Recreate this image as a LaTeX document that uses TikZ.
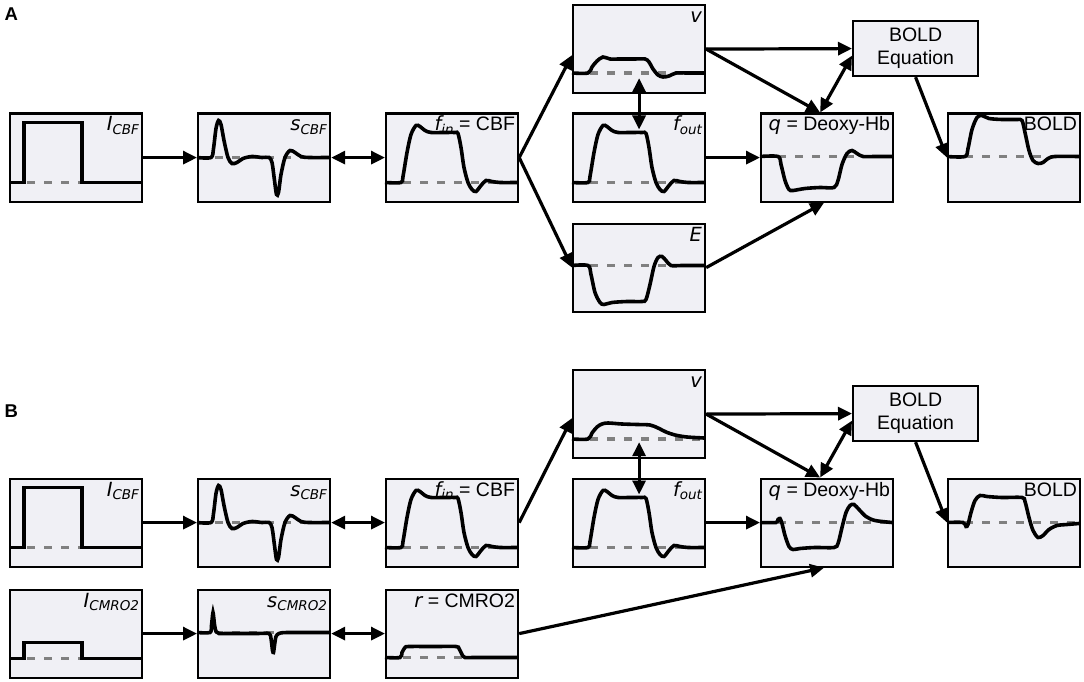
\documentclass[tikz,border=0pt]{standalone}
\usepackage{fontspec}
\setmainfont{Liberation Sans}
\newfontfamily\vf{DejaVu Sans Oblique}
\usetikzlibrary{arrows.meta,calc}
\definecolor{boxfill}{RGB}{240,240,245}
\definecolor{dashcol}{RGB}{128,128,128}
\newcommand\sub[1]{\raisebox{-3.2pt}{\fontsize{13.5}{14}\selectfont #1}}
\newcommand\sigbox[5]{%
  \node[sbox] (#1) at (#2,#3) {};
  \begin{scope}[shift={(#2,#3)}]
    \draw[basel] (18,#4) -- (131,#4);
    \draw[sig] #5;
  \end{scope}}
\newcommand\blabel[2]{\node[lab] (#1l) at ($(#1.north east)+(-4,18.5)$) {#2};}
\begin{document}
\begin{tikzpicture}[x=1pt,y=-1pt,
  sbox/.style={draw=black, line width=2.2pt, fill=boxfill, inner sep=0pt,
    minimum width=132pt, minimum height=88pt, anchor=north west},
  eqbox/.style={draw=black, line width=2.2pt, fill=boxfill, inner sep=0pt,
    minimum width=125pt, minimum height=55pt, anchor=north west, align=center,
    font=\fontsize{19.5}{23}\selectfont},
  sig/.style={line width=3.6pt, black},
  basel/.style={line width=3.2pt, dashcol, dash pattern=on 8pt off 9pt},
  arr/.style={line width=3.2pt, -{Triangle[length=14pt,width=13pt]}},
  darr/.style={line width=3.2pt, {Triangle[length=14pt,width=13pt]}-{Triangle[length=14pt,width=13pt]}},
  lab/.style={anchor=base east, inner sep=0pt, font=\fontsize{19.5}{22}\selectfont},
  plab/.style={anchor=base west, inner sep=0pt, font=\bfseries\fontsize{18.5}{21}\selectfont}]
\useasboundingbox (0,0) rectangle (1084,682);
\fill[white] (0,0) rectangle (1084,682);

% ---------------- Panel A ----------------
\node[plab] (pA) at (4.5,21) {A};
\sigbox{icbfA}{9}{112.5}{70}{(0,70)--(15,70)--(15,10)--(73,10)--(73,70)--(132,70)}
\sigbox{scbfA}{197}{112.5}{45}{plot[smooth,tension=.5] coordinates {(0,45) (14,45) (16.5,36) (19,16) (21.5,8) (24,12) (27,28) (31,45) (35,51) (40,50) (46,46) (55,44) (65,45) (72,45) (75,50) (77.5,68) (79.5,82) (81.5,80) (84,62) (88,45) (93,38) (98,40) (104,44) (112,45) (132,45)}}
\sigbox{finA}{385}{112.5}{70}{plot[smooth,tension=.5] coordinates {(0,70) (16,70) (18,64) (22,40) (26,22) (31,13) (35,14) (40,18) (46,20) (58,20) (70,20) (73,21) (76,35) (79,55) (83,70) (87,77) (91,79) (96,73) (101,68) (107,69) (115,70) (132,70)}}
\sigbox{vA}{572}{4}{69}{plot[smooth,tension=.5] coordinates {(0,69) (16,69) (20,63) (25,57) (31,53) (38,55) (48,55) (62,55) (73,55) (77,58) (81,65) (86,71) (91,73) (97,72) (104,69) (115,69) (132,69)}}
\sigbox{foutA}{572}{112.5}{70}{plot[smooth,tension=.5] coordinates {(0,70) (16,70) (18,64) (22,40) (26,22) (31,13) (35,14) (40,18) (46,20) (58,20) (70,20) (74,21) (77,35) (80,55) (84,70) (88,77) (92,79) (97,73) (102,68) (108,69) (116,70) (132,70)}}
\sigbox{eA}{572}{222.5}{43}{plot[smooth,tension=.5] coordinates {(0,43) (16,43) (19,52) (23,70) (28,80) (32,82) (40,80) (55,79) (70,79) (74,77) (78,62) (82,44) (86,35) (90,34) (94,38) (99,43) (110,43) (132,43)}}
\sigbox{qA}{760}{112.5}{44}{plot[smooth,tension=.5] coordinates {(0,44) (18,44) (21,52) (25,68) (29,77) (33,78) (45,76) (60,75) (74,75) (78,68) (82,52) (87,41) (92,38) (97,41) (103,44) (115,44) (132,44)}}
\sigbox{boldA}{947}{112.5}{44}{plot[smooth,tension=.5] coordinates {(0,44) (18,44) (21,36) (25,17) (30,5) (35,3) (42,6) (55,7) (70,7) (75,8) (78,20) (82,38) (86,48) (91,51) (96,50) (101,46) (108,44) (132,44)}}
\node[eqbox] (beqA) at (852,20) {BOLD\\Equation};

\blabel{icbfA}{{\vf I\sub{CBF}}}
\blabel{scbfA}{{\vf s\sub{CBF}}}
\blabel{finA}{{\vf f\sub{in}} = CBF}
\blabel{vA}{{\vf v}}
\blabel{foutA}{{\vf f\sub{out}}}
\blabel{eA}{{\vf E}}
\blabel{qA}{{\vf q} = Deoxy-Hb}
\blabel{boldA}{BOLD}

\coordinate (qtA) at ($(qA.north)+(-7,0)$);
\draw[arr] (icbfA.east) -- (scbfA.west);
\draw[darr] (scbfA.east) -- (finA.west);
\draw[arr] (finA.east) -- ($(vA.west)+(0,6)$);
\draw[arr] (finA.east) -- (eA.west);
\draw[darr] ($(vA.south)+(0,-16)$) -- ($(foutA.north)+(0,17)$);
\draw[arr] (foutA.east) -- (qA.west);
\draw[arr] (eA.east) -- ($(qA.south)+(-3,0)$);
\draw[arr] (vA.east) -- (beqA.west);
\draw[arr] (vA.east) -- (qtA);
\draw[darr] (qtA) -- ($(beqA.west)+(0,7)$);
\draw[arr] (beqA.south) -- (boldA.west);

% ---------------- Panel B ----------------
\node[plab] (pB) at (4.5,417.5) {B};
\sigbox{icbfB}{9}{477.5}{70}{(0,70)--(15,70)--(15,10)--(73,10)--(73,70)--(132,70)}
\sigbox{scbfB}{197}{477.5}{45}{plot[smooth,tension=.5] coordinates {(0,45) (14,45) (16.5,36) (19,16) (21.5,8) (24,12) (27,28) (31,45) (35,51) (40,50) (46,46) (55,44) (65,45) (72,45) (75,50) (77.5,68) (79.5,82) (81.5,80) (84,62) (88,45) (93,38) (98,40) (104,44) (112,45) (132,45)}}
\sigbox{finB}{385}{477.5}{70}{plot[smooth,tension=.5] coordinates {(0,70) (16,70) (18,64) (22,40) (26,22) (31,13) (35,14) (40,18) (46,20) (58,20) (70,20) (73,21) (76,35) (79,55) (83,70) (87,77) (91,79) (96,73) (101,68) (107,69) (115,70) (132,70)}}
\sigbox{vB}{572}{369}{70}{plot[smooth,tension=.5] coordinates {(0,70) (16,70) (20,64) (25,58) (30,55) (36,54) (50,55) (65,55.5) (78,56) (86,59) (94,63) (103,66) (115,68) (132,69)}}
\sigbox{foutB}{572}{477.5}{70}{plot[smooth,tension=.5] coordinates {(0,70) (16,70) (18,64) (22,40) (26,22) (31,13) (35,14) (40,18) (46,20) (58,20) (70,20) (74,21) (77,35) (80,55) (84,70) (88,77) (92,79) (97,73) (102,68) (108,69) (116,70) (132,70)}}
\sigbox{qB}{760}{477.5}{45}{plot[smooth,tension=.5] coordinates {(0,45) (16,45) (18,42) (20,41) (22,46) (25,58) (29,69) (33,72) (40,71) (55,70) (74,70) (78,66) (82,50) (86,35) (90,28) (94,27) (99,32) (106,39) (115,43) (132,45)}}
\sigbox{boldB}{947}{477.5}{45}{plot[smooth,tension=.5] coordinates {(0,45) (16,45) (19,49) (21,47) (24,35) (28,23) (33,18) (40,19) (55,20) (75,20) (78,24) (82,40) (86,53) (91,60) (96,58) (102,52) (110,48) (120,47) (132,46)}}
\node[eqbox] (beqB) at (852,385) {BOLD\\Equation};
\sigbox{icmroB}{9}{588.5}{70}{(0,70)--(15,70)--(15,54)--(73,54)--(73,70)--(132,70)}
\sigbox{scmroB}{197}{588.5}{44}{plot[smooth,tension=.45] coordinates {(0,44) (13,44) (14.5,37) (16,24) (17.5,36) (19,43) (22,45) (30,45) (60,45) (72,45) (74,50) (75.5,62) (76.5,64) (77.5,57) (79,48) (82,45) (90,44) (132,44)}}
\sigbox{rB}{385}{588.5}{69}{plot[smooth,tension=.5] coordinates {(0,69) (15,69) (17,64) (20,59) (24,58) (50,58) (71,58) (74,60) (77,66) (80,69) (90,69) (132,69)}}

\blabel{icbfB}{{\vf I\sub{CBF}}}
\blabel{scbfB}{{\vf s\sub{CBF}}}
\blabel{finB}{{\vf f\sub{in}} = CBF}
\blabel{vB}{{\vf v}}
\blabel{foutB}{{\vf f\sub{out}}}
\blabel{qB}{{\vf q} = Deoxy-Hb}
\blabel{boldB}{BOLD}
\blabel{icmroB}{{\vf I\sub{CMRO2}}}
\blabel{scmroB}{{\vf s\sub{CMRO2}}}
\blabel{rB}{{\vf r} = CMRO2}

\coordinate (qtB) at ($(qB.north)+(-7,0)$);
\draw[arr] (icbfB.east) -- (scbfB.west);
\draw[darr] (scbfB.east) -- (finB.west);
\draw[arr] (finB.east) -- ($(vB.west)+(0,4)$);
\draw[darr] ($(vB.south)+(0,-17)$) -- ($(foutB.north)+(0,17)$);
\draw[arr] (foutB.east) -- (qB.west);
\draw[arr] (vB.east) -- (beqB.west);
\draw[arr] (vB.east) -- (qtB);
\draw[darr] (qtB) -- ($(beqB.west)+(0,7)$);
\draw[arr] (beqB.south) -- (boldB.west);
\draw[arr] (icmroB.east) -- (scmroB.west);
\draw[darr] (scmroB.east) -- (rB.west);
\draw[arr] (rB.east) -- ($(qB.south)+(-3,0)$);
\end{tikzpicture}
\end{document}
